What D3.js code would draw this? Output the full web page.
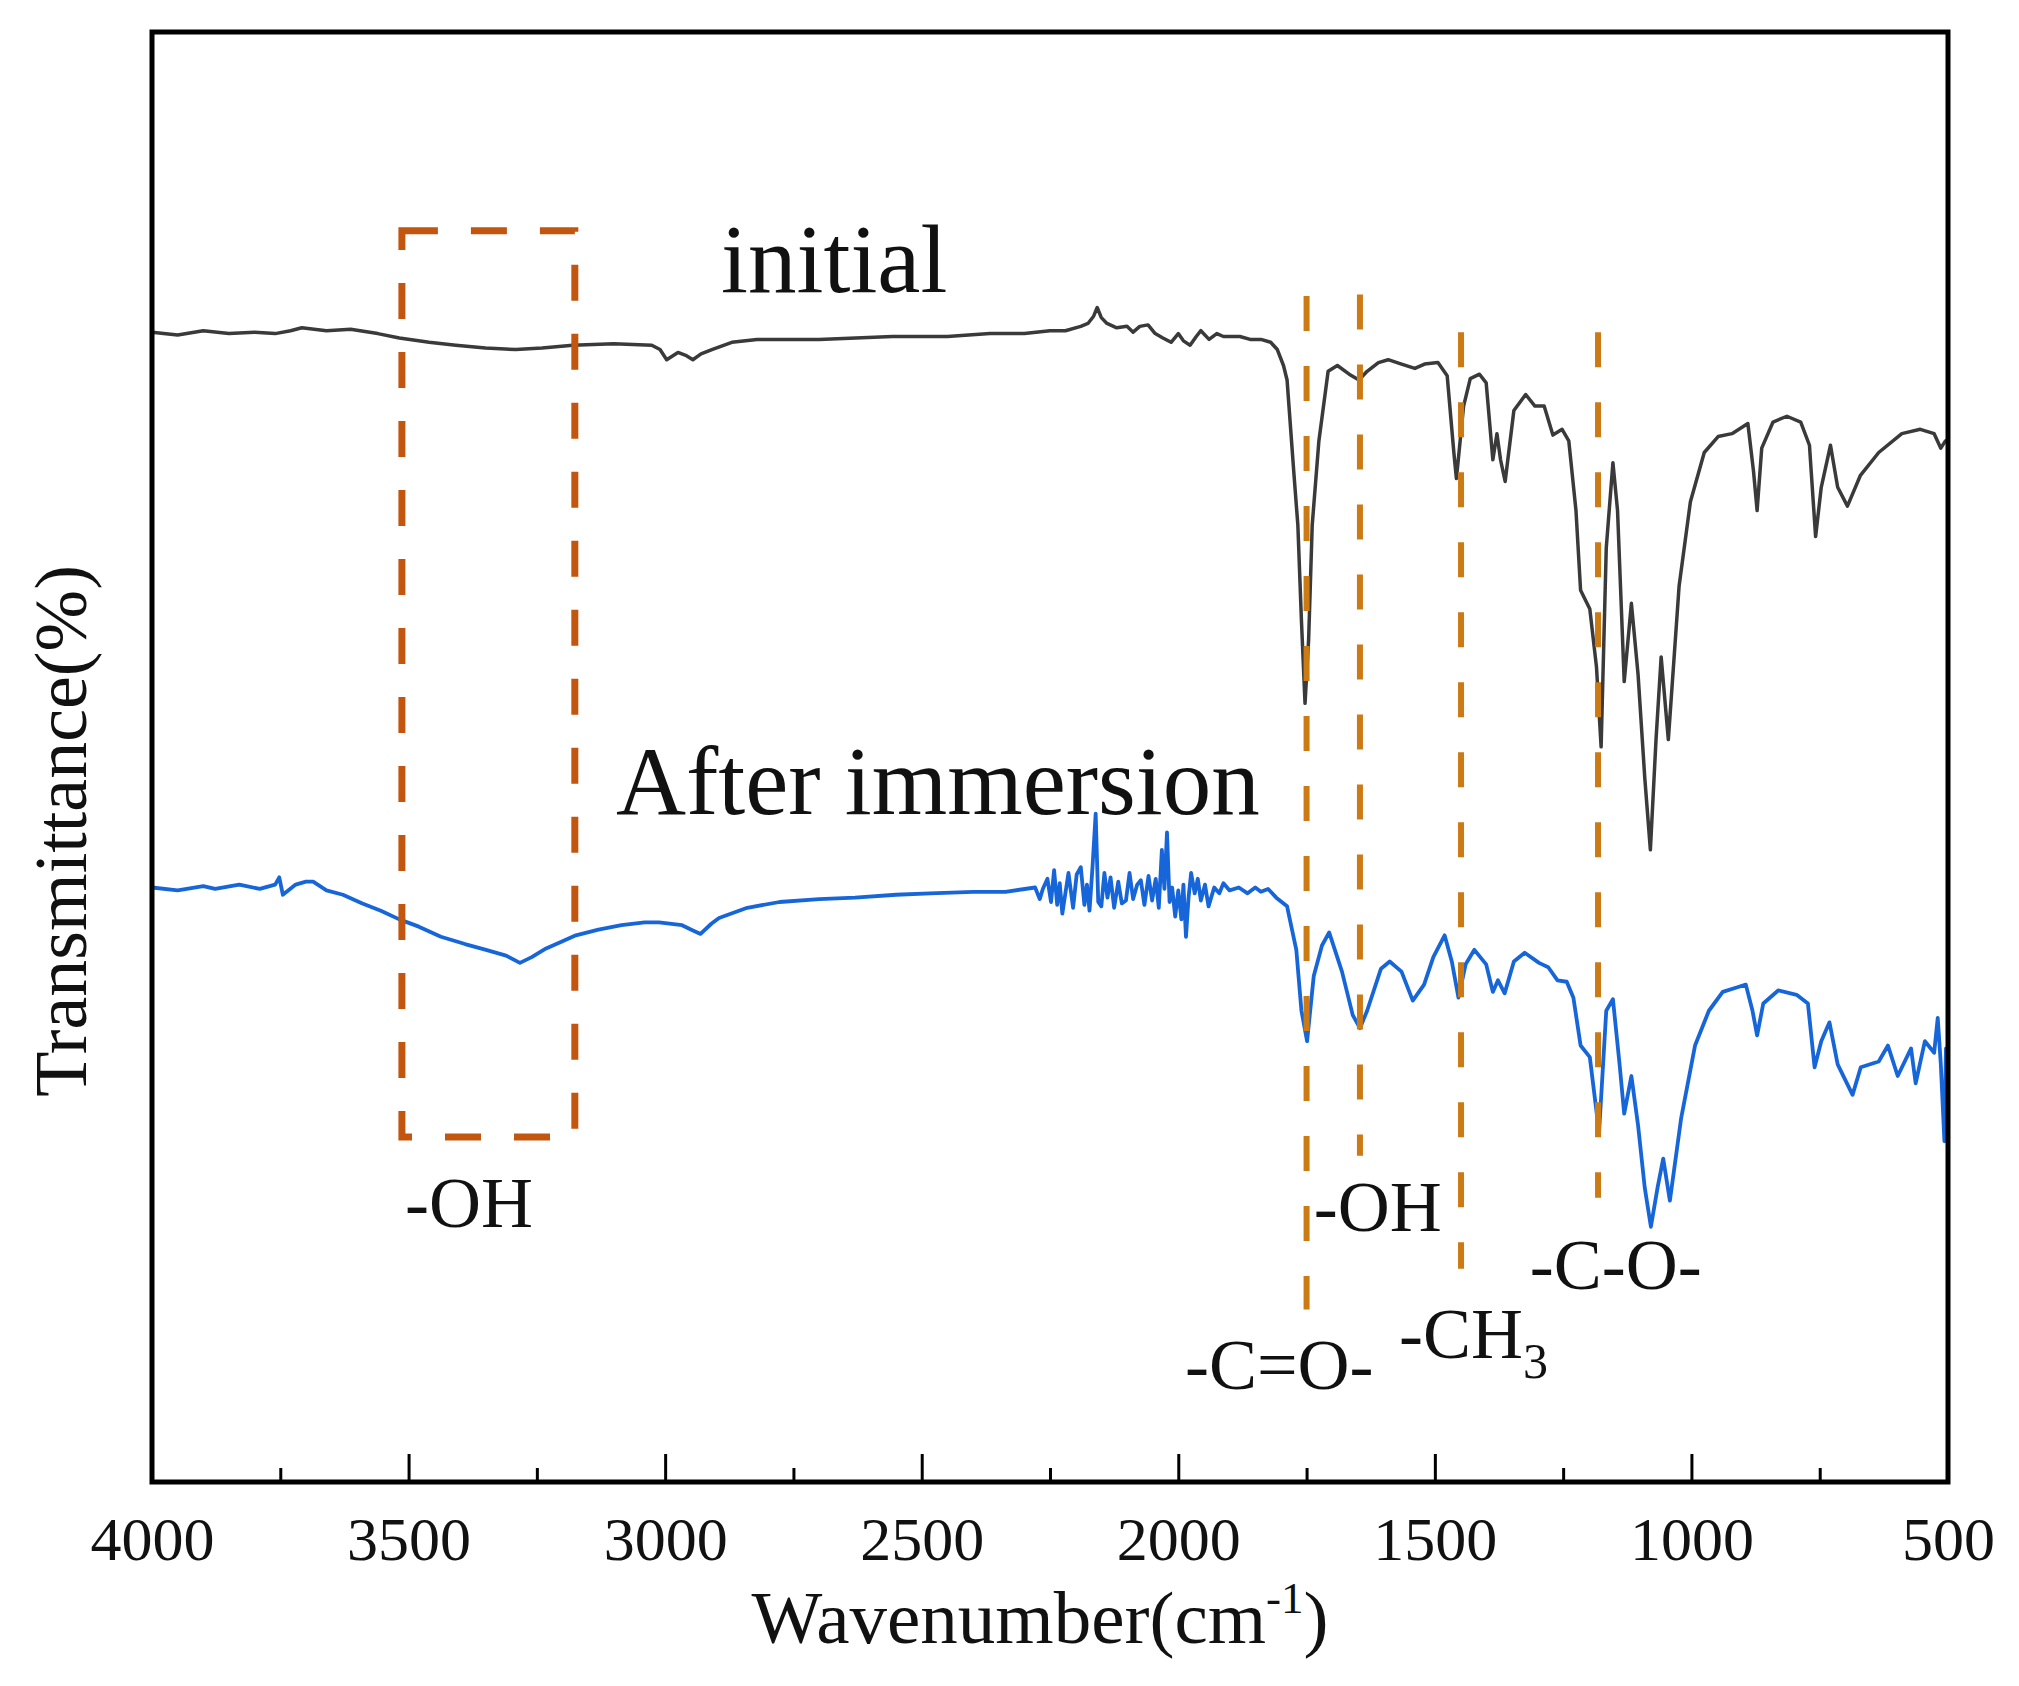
<!DOCTYPE html>
<html>
<head>
<meta charset="utf-8">
<script src="https://cdn.jsdelivr.net/npm/d3@7"></script>
<style>
  body { margin: 0; background: #fff; }
  text { font-family: 'Liberation Serif', 'Times New Roman', serif; fill: #111; }
</style>
</head>
<body>
<div id="vis"></div>
<script>
// FTIR spectra: [wavenumber cm-1, transmittance]
var initialPoints = [
  [4000, 79.3], [3950, 79.1], [3900, 79.4], [3850, 79.2], [3800, 79.3], [3760, 79.2],
  [3730, 79.4], [3708, 79.6], [3660, 79.4], [3613, 79.5], [3560, 79.2], [3518, 78.9],
  [3460, 78.6], [3408, 78.4], [3350, 78.2], [3291, 78.1], [3240, 78.2], [3180, 78.4],
  [3100, 78.5], [3026, 78.4], [3010, 78.1], [2997, 77.4], [2975, 77.9], [2960, 77.7],
  [2946, 77.4], [2930, 77.8], [2909, 78.1], [2870, 78.6], [2821, 78.8], [2700, 78.8],
  [2557, 79.0], [2450, 79.0], [2367, 79.2], [2300, 79.2], [2250, 79.4], [2220, 79.4],
  [2190, 79.7], [2176, 79.9], [2165, 80.4], [2158, 81.0], [2150, 80.3], [2139, 79.9],
  [2120, 79.6], [2100, 79.7], [2088, 79.3], [2075, 79.7], [2059, 79.8], [2045, 79.2],
  [2030, 78.9], [2014, 78.6], [2000, 79.2], [1990, 78.7], [1977, 78.4], [1965, 79.0],
  [1956, 79.4], [1940, 78.8], [1925, 79.2], [1912, 79.0], [1880, 79.0], [1860, 78.8],
  [1839, 78.8], [1820, 78.6], [1807, 78.1], [1795, 77.0], [1788, 76.0], [1775, 69.7],
  [1767, 66.0], [1760, 59.4], [1753, 53.7], [1746, 58.1], [1739, 66.0], [1726, 71.8],
  [1708, 76.6], [1690, 77.0], [1667, 76.4], [1648, 76.0], [1632, 76.6], [1610, 77.2],
  [1591, 77.4], [1565, 77.1], [1539, 76.8], [1520, 77.1], [1494, 77.2], [1476, 76.3],
  [1463, 71.0], [1458, 69.2], [1444, 74.2], [1431, 76.1], [1413, 76.4], [1400, 75.8],
  [1387, 70.5], [1379, 72.3], [1372, 70.5], [1363, 69.0], [1346, 73.9], [1323, 75.0],
  [1305, 74.2], [1287, 74.2], [1270, 72.2], [1252, 72.6], [1239, 71.8], [1225, 67.0],
  [1216, 61.5], [1198, 60.2], [1185, 56.2], [1176, 50.7], [1166, 64.4], [1153, 70.3],
  [1144, 67.0], [1131, 55.2], [1117, 60.6], [1104, 55.7], [1091, 48.6], [1080, 43.6],
  [1069, 51.2], [1059, 56.9], [1045, 51.2], [1024, 61.8], [1002, 67.6], [975, 71.0],
  [948, 72.1], [921, 72.3], [890, 73.0], [879, 69.7], [872, 67.0], [863, 71.3],
  [841, 73.1], [814, 73.5], [787, 73.1], [770, 71.5], [758, 65.2], [747, 68.6],
  [729, 71.5], [715, 68.6], [696, 67.3], [671, 69.4], [635, 71.0], [590, 72.3],
  [554, 72.6], [527, 72.3], [514, 71.3], [505, 71.8], [500, 71.9]
];

var immersionPoints = [
  [4000, 41.0], [3950, 40.8], [3900, 41.1], [3877, 40.9], [3830, 41.2], [3790, 40.9],
  [3760, 41.2], [3752, 41.7], [3745, 40.5], [3720, 41.2], [3700, 41.4], [3686, 41.4],
  [3660, 40.8], [3628, 40.5], [3590, 39.9], [3554, 39.4], [3518, 38.8], [3480, 38.3],
  [3437, 37.6], [3390, 37.1], [3349, 36.7], [3310, 36.3], [3283, 35.8], [3260, 36.2],
  [3232, 36.8], [3200, 37.3], [3174, 37.7], [3130, 38.1], [3085, 38.4], [3040, 38.6],
  [3012, 38.6], [2967, 38.4], [2950, 38.1], [2931, 37.8], [2910, 38.5], [2895, 38.9],
  [2840, 39.6], [2777, 40.0], [2700, 40.2], [2630, 40.3], [2550, 40.5], [2484, 40.6],
  [2400, 40.7], [2337, 40.7], [2279, 41.0], [2270, 40.2], [2264, 40.9], [2255, 41.6],
  [2248, 40.0], [2242, 42.2], [2236, 39.8], [2231, 41.3], [2226, 39.2], [2220, 40.6],
  [2214, 42.0], [2205, 39.6], [2198, 41.9], [2190, 42.4], [2183, 39.8], [2178, 41.2],
  [2173, 39.4], [2167, 42.5], [2161, 46.1], [2156, 40.0], [2150, 39.7], [2144, 42.0],
  [2138, 40.3], [2132, 41.7], [2125, 39.6], [2117, 41.4], [2110, 39.9], [2102, 40.1],
  [2095, 42.0], [2088, 40.2], [2080, 41.2], [2073, 41.5], [2066, 39.8], [2058, 41.8],
  [2051, 40.1], [2044, 41.6], [2038, 39.6], [2032, 43.6], [2027, 40.9], [2022, 44.8],
  [2017, 40.0], [2012, 41.0], [2006, 39.0], [2000, 40.8], [1994, 38.8], [1990, 41.2],
  [1985, 37.6], [1980, 40.3], [1975, 42.0], [1968, 40.6], [1962, 41.6], [1956, 40.1],
  [1948, 41.2], [1941, 39.7], [1930, 41.0], [1920, 40.6], [1912, 41.3], [1900, 40.8],
  [1882, 41.0], [1865, 40.6], [1850, 41.0], [1839, 40.7], [1825, 40.9], [1809, 40.3],
  [1788, 39.7], [1770, 36.7], [1760, 32.5], [1749, 30.4], [1736, 34.9], [1720, 37.0],
  [1706, 37.9], [1681, 35.2], [1660, 32.2], [1646, 31.3], [1632, 32.5], [1605, 35.4],
  [1588, 35.9], [1565, 35.2], [1543, 33.2], [1521, 34.3], [1503, 36.2], [1481, 37.7],
  [1467, 35.9], [1454, 33.4], [1440, 35.7], [1423, 36.7], [1400, 35.7], [1387, 33.8],
  [1377, 34.6], [1364, 33.7], [1346, 35.9], [1325, 36.5], [1297, 35.8], [1279, 35.5],
  [1261, 34.6], [1243, 34.5], [1230, 33.4], [1216, 30.1], [1198, 29.3], [1180, 24.1],
  [1166, 32.5], [1153, 33.3], [1140, 28.8], [1131, 25.4], [1117, 28.0], [1104, 24.6],
  [1091, 20.3], [1079, 17.6], [1066, 20.3], [1055, 22.3], [1042, 19.4], [1020, 25.1],
  [993, 30.1], [966, 32.5], [939, 33.8], [912, 34.1], [894, 34.3], [881, 32.5],
  [872, 30.8], [860, 33.0], [831, 33.9], [795, 33.6], [773, 33.0], [760, 28.6],
  [747, 30.4], [731, 31.7], [715, 28.8], [686, 26.7], [670, 28.6], [635, 29.0],
  [617, 30.1], [598, 28.0], [572, 29.9], [563, 27.5], [545, 30.4], [527, 29.6],
  [520, 32.0], [514, 28.8], [507, 23.5], [504, 29.9], [500, 23.5]
];

var xTicks = [4000, 3500, 3000, 2500, 2000, 1500, 1000, 500];
var xMinorTicks = [3750, 3250, 2750, 2250, 1750, 1250, 750];

// band marker lines: wavenumber, top and bottom (transmittance units)
var bandLines = [
  { wn: 1750, top: 81.8, bottom: 11.9 },
  { wn: 1646, top: 81.9, bottom: 22.5 },
  { wn: 1449, top: 79.3, bottom: 14.7 },
  { wn: 1182, top: 79.3, bottom: 19.6 }
];

// -OH box around the broad band
var ohBox = { wnLeft: 3513, wnRight: 3176, top: 86.3, bottom: 23.8 };

var bandLabels = [
  { wn: 3507, t: 17.6, text: '-OH' },
  { wn: 1736, t: 17.3, text: '-OH' },
  { wn: 1315, t: 13.3, text: '-C-O-' },
  { wn: 1570, t: 8.55, text: '-CH', sub: '3' },
  { wn: 1987, t: 6.4, text: '-C=O-' }
];

var seriesLabels = [
  { wn: 2891, t: 82.1, text: 'initial' },
  { wn: 3096, t: 46.1, text: 'After immersion' }
];

var width = 2019;
var height = 1686;
var margin = { top: 32, left: 152, right: 71, bottom: 204 };

var svg = d3.select('#vis')
  .append('svg')
  .attr('width', width)
  .attr('height', height);

var x = d3.scaleLinear()
  .domain([4000, 500])
  .range([margin.left, width - margin.right]);

var y = d3.scaleLinear()
  .domain([0, 100])
  .range([height - margin.bottom, margin.top]);

var line = d3.line()
  .x(function (d) { return x(d[0]); })
  .y(function (d) { return y(d[1]); });

// spectra
svg.append('path')
  .datum(initialPoints)
  .attr('fill', 'none')
  .attr('stroke', '#3a3a3a')
  .attr('stroke-width', 3.5)
  .attr('stroke-linejoin', 'round')
  .attr('d', line);

svg.append('path')
  .datum(immersionPoints)
  .attr('fill', 'none')
  .attr('stroke', '#1766d9')
  .attr('stroke-width', 3.8)
  .attr('stroke-linejoin', 'round')
  .attr('d', line);

// dashed -OH box
svg.append('rect')
  .attr('x', x(ohBox.wnLeft))
  .attr('y', y(ohBox.top))
  .attr('width', x(ohBox.wnRight) - x(ohBox.wnLeft))
  .attr('height', y(ohBox.bottom) - y(ohBox.top))
  .attr('fill', 'none')
  .attr('stroke', '#c2560f')
  .attr('stroke-width', 7)
  .attr('stroke-dasharray', '36,33');

// dashed band lines
svg.selectAll('line.band')
  .data(bandLines).enter()
  .append('line')
  .attr('class', 'band')
  .attr('x1', function (d) { return x(d.wn); })
  .attr('x2', function (d) { return x(d.wn); })
  .attr('y1', function (d) { return y(d.top); })
  .attr('y2', function (d) { return y(d.bottom); })
  .attr('stroke', '#cc7a14')
  .attr('stroke-width', 6)
  .attr('stroke-dasharray', '35,35');

// series labels
svg.selectAll('text.series')
  .data(seriesLabels).enter()
  .append('text')
  .attr('class', 'series')
  .attr('x', function (d) { return x(d.wn); })
  .attr('y', function (d) { return y(d.t); })
  .attr('font-size', 97)
  .text(function (d) { return d.text; });

// band labels
var labels = svg.selectAll('text.bandlabel')
  .data(bandLabels).enter()
  .append('text')
  .attr('class', 'bandlabel')
  .attr('x', function (d) { return x(d.wn); })
  .attr('y', function (d) { return y(d.t); })
  .attr('font-size', 72);

labels.append('tspan')
  .text(function (d) { return d.text; });

labels.filter(function (d) { return d.sub; })
  .append('tspan')
  .attr('font-size', 50)
  .attr('dy', 20)
  .text(function (d) { return d.sub; });

// bottom axis with inward ticks
var xAxis = d3.axisBottom(x)
  .tickValues(xTicks)
  .tickSize(-28)
  .tickPadding(34)
  .tickFormat(d3.format('d'));

var gx = svg.append('g')
  .attr('transform', 'translate(0,' + (height - margin.bottom) + ')')
  .call(xAxis);

gx.select('.domain').remove();
gx.selectAll('.tick line')
  .attr('stroke', '#000')
  .attr('stroke-width', 3);
gx.selectAll('.tick text')
  .attr('font-family', "'Liberation Serif', 'Times New Roman', serif")
  .attr('font-size', 62)
  .attr('fill', '#111');

var xMinor = d3.axisBottom(x)
  .tickValues(xMinorTicks)
  .tickSize(-14)
  .tickFormat('');

var gm = svg.append('g')
  .attr('transform', 'translate(0,' + (height - margin.bottom) + ')')
  .call(xMinor);

gm.select('.domain').remove();
gm.selectAll('.tick line')
  .attr('stroke', '#000')
  .attr('stroke-width', 3);

// frame
svg.append('rect')
  .attr('x', margin.left)
  .attr('y', margin.top)
  .attr('width', width - margin.left - margin.right)
  .attr('height', height - margin.top - margin.bottom)
  .attr('fill', 'none')
  .attr('stroke', '#000')
  .attr('stroke-width', 5);

// axis titles
var xTitle = svg.append('text')
  .attr('x', (margin.left + width - margin.right) / 2 - 10)
  .attr('y', 1643)
  .attr('text-anchor', 'middle')
  .attr('font-size', 75);
xTitle.append('tspan').text('Wavenumber(cm');
xTitle.append('tspan').attr('font-size', 45).attr('dy', -30).text('-1');
xTitle.append('tspan').attr('dy', 30).text(')');

svg.append('text')
  .attr('transform', 'translate(86,' + 831 + ') rotate(-90)')
  .attr('text-anchor', 'middle')
  .attr('font-size', 74)
  .text('Transmittance(%)');
</script>
</body>
</html>
